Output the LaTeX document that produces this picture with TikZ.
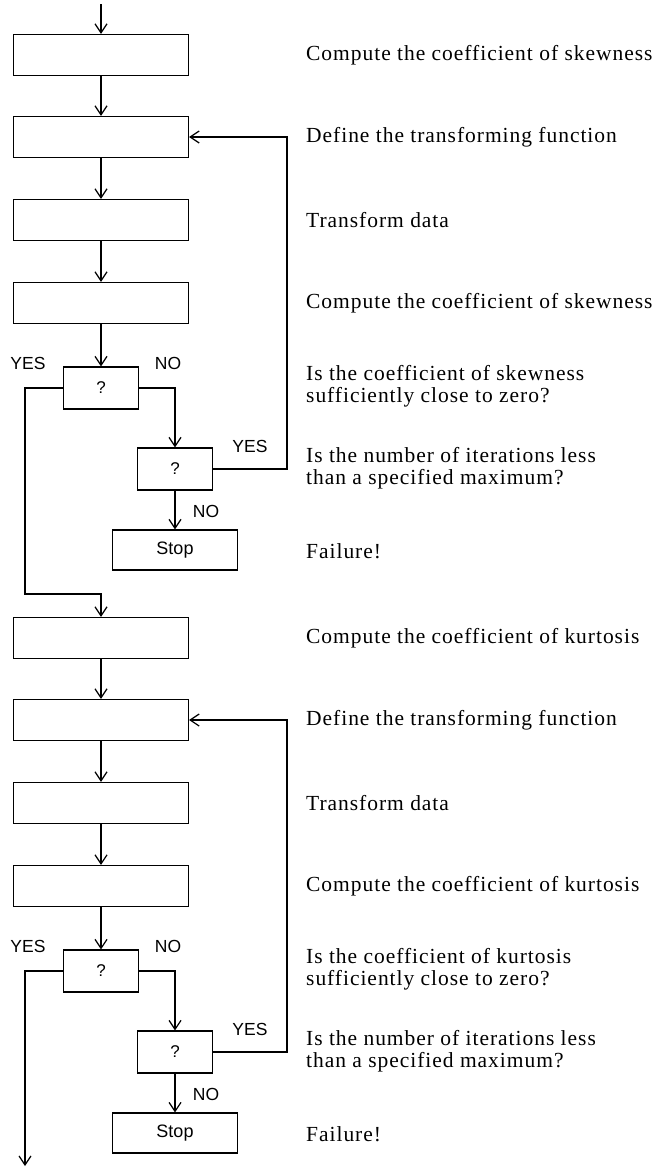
\documentclass[tikz,border=0pt]{standalone}
\usepackage{fontspec}
\setmainfont{Liberation Serif}
\newfontfamily\descfont{Liberation Serif}[LetterSpace=4.5]
\newfontfamily\labfont{Liberation Sans}
\usetikzlibrary{arrows.meta}
\begin{document}
\begin{tikzpicture}[x=1pt,y=1pt,
  box/.style={draw, line width=1.2pt, minimum width=175pt, minimum height=41pt, inner sep=0pt},
  qbox/.style={draw, line width=1.2pt, minimum width=75pt, minimum height=42pt, inner sep=0pt, font=\labfont\fontsize{17}{19}\selectfont},
  stopbox/.style={draw, line width=1.2pt, minimum width=125pt, minimum height=40pt, inner sep=0pt, font=\labfont\fontsize{18}{20}\selectfont},
  lab/.style={inner sep=0pt, font=\labfont\fontsize{17.5}{19}\selectfont},
  desc/.style={anchor=west, align=left, inner sep=0pt, font=\descfont\fontsize{21.5}{21.5}\selectfont},
  flow/.style={line width=1.2pt, -{Straight Barb[length=9pt,width=12pt]}}
]
\useasboundingbox (0,0) rectangle (659,-1168);

% ---- first half (skewness)
\coordinate (top) at (101,-4);
\node[box] (b1) at (101,-55) {};
\node[box] (b2) at (101,-137) {};
\node[box] (b3) at (101,-220) {};
\node[box] (b4) at (101,-303) {};
\node[qbox] (d1) at (101,-388) {?};
\node[qbox] (d2) at (175,-469) {?};
\node[stopbox] (s1) at (175,-550) {Stop};

\node[lab] (y1) at (28,-363) {YES};
\node[lab] (n1) at (168,-363) {NO};
\node[lab] (y2) at (250,-446) {YES};
\node[lab] (n2) at (206,-511) {NO};

\coordinate (r1) at (287,-137);
\coordinate (l1) at (25,-594);

\draw[flow] (top) -- (b1.north);
\draw[flow] (b1.south) -- (b2.north);
\draw[flow] (b2.south) -- (b3.north);
\draw[flow] (b3.south) -- (b4.north);
\draw[flow] (b4.south) -- (d1.north);
\draw[flow] (d1.east) -| (d2.north);
\draw[flow] (d2.south) -- (s1.north);
\draw[flow] (d2.east) -| (r1) -- (b2.east);

% ---- second half (kurtosis)
\node[box] (b5) at (101,-638) {};
\node[box] (b6) at (101,-720) {};
\node[box] (b7) at (101,-803) {};
\node[box] (b8) at (101,-886) {};
\node[qbox] (d3) at (101,-971) {?};
\node[qbox] (d4) at (175,-1052) {?};
\node[stopbox] (s2) at (175,-1133) {Stop};

\node[lab] (y3) at (28,-946) {YES};
\node[lab] (n3) at (168,-946) {NO};
\node[lab] (y4) at (250,-1029) {YES};
\node[lab] (n4) at (206,-1094) {NO};

\coordinate (r2) at (287,-720);
\coordinate (l2) at (25,-1166);

\draw[flow] (d1.west) -| (l1) -| (b5.north);
\draw[flow] (b5.south) -- (b6.north);
\draw[flow] (b6.south) -- (b7.north);
\draw[flow] (b7.south) -- (b8.north);
\draw[flow] (b8.south) -- (d3.north);
\draw[flow] (d3.east) -| (d4.north);
\draw[flow] (d4.south) -- (s2.north);
\draw[flow] (d4.east) -| (r2) -- (b6.east);
\draw[flow] (d3.west) -| (l2);

% ---- descriptions
\node[desc] (t1) at (306,-55) {Compute the coefficient of skewness};
\node[desc] (t2) at (306,-137) {Define the transforming function};
\node[desc] (t3) at (306,-220) {Transform data};
\node[desc] (t4) at (306,-303) {Compute the coefficient of skewness};
\node[desc] (t5) at (306,-386) {Is the coefficient of skewness\\sufficiently close to zero?};
\node[desc] (t6) at (306,-468) {Is the number of iterations less\\than a specified maximum?};
\node[desc] (t7) at (306,-551) {Failure!};

\node[desc] (t8) at (306,-638) {Compute the coefficient of kurtosis};
\node[desc] (t9) at (306,-720) {Define the transforming function};
\node[desc] (t10) at (306,-803) {Transform data};
\node[desc] (t11) at (306,-886) {Compute the coefficient of kurtosis};
\node[desc] (t12) at (306,-969) {Is the coefficient of kurtosis\\sufficiently close to zero?};
\node[desc] (t13) at (306,-1051) {Is the number of iterations less\\than a specified maximum?};
\node[desc] (t14) at (306,-1134) {Failure!};
\end{tikzpicture}
\end{document}
